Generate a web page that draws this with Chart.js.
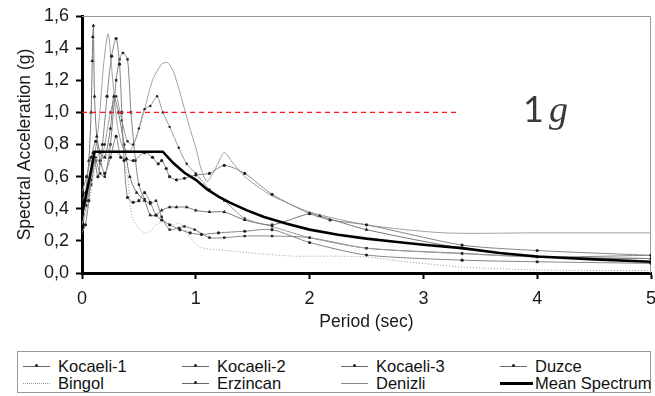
<!DOCTYPE html>
<html>
<head>
<meta charset="utf-8">
<title>Response spectra</title>
<script src="https://cdn.jsdelivr.net/npm/chart.js"></script>
<style>
  body { margin: 0; background: #fff; }
  #wrap { position: relative; width: 655px; height: 396px; font-family: "Liberation Sans", Arial, sans-serif; }
  #plot { position: absolute; left: 0; top: 0; width: 655px; height: 340px; }
  #oneg { position: absolute; left: 523px; top: 86px; color: #3a3a3a; white-space: nowrap; }
  #oneg .n { font-family: Lato, sans-serif; font-size: 36px; }
  #oneg .g { font-family: "Liberation Serif", serif; font-style: italic; font-size: 38px; margin-left: 5px; }
  #legend { position: absolute; left: 17px; top: 351px; width: 634px; height: 42px; border: 1px solid #999; box-sizing: border-box; }
  .item { position: absolute; height: 18px; font-size: 16.5px; color: #111; line-height: 18px; }
  .item .ln { position: absolute; left: 0; top: 9px; width: 27px; border-top: 1px solid #666; }
  .item .dot { position: absolute; left: 12px; top: 7px; width: 3px; height: 3px; background: #222; border-radius: 50%; }
  .item span.t { position: absolute; left: 35px; top: 0; white-space: nowrap; }
</style>
</head>
<body>
<div id="wrap">
  <div id="plot"><canvas id="myChart"></canvas></div>
  <div id="oneg"><span class="n">1</span><span class="g">g</span></div>
  <div id="legend"></div>
</div>
<script>
// period (s), spectral acceleration (g) pairs
const kocaeli1 = [[0,0.25],[0.03,0.3],[0.06,0.45],[0.1,0.75],[0.14,0.6],[0.18,0.8],[0.22,1.1],[0.26,1.35],[0.3,1.46],[0.33,1.3],[0.35,1.0],[0.37,0.7],[0.4,0.47],[0.45,0.44],[0.5,0.45],[0.55,0.5],[0.6,0.44],[0.65,0.36],[0.7,0.33],[0.77,0.3],[0.86,0.27],[0.95,0.25],[1.05,0.24],[1.2,0.25],[1.43,0.26],[1.67,0.27],[2.0,0.19],[2.5,0.112],[3.34,0.08],[4.0,0.07],[5.0,0.06]];
const kocaeli2 = [[0,0.5],[0.04,0.6],[0.08,0.72],[0.12,0.82],[0.16,0.7],[0.2,0.62],[0.25,0.72],[0.3,0.85],[0.34,0.72],[0.39,0.71],[0.45,0.7],[0.55,0.75],[0.62,0.72],[0.67,0.68],[0.7,0.7],[0.74,0.65],[0.77,0.6],[0.83,0.58],[0.9,0.59],[1.0,0.61],[1.12,0.62],[1.25,0.67],[1.43,0.62],[1.67,0.49],[2.0,0.37],[2.18,0.33],[2.5,0.3],[3.34,0.174],[4.0,0.14],[5.0,0.11]];
const kocaeli3 = [[0,0.45],[0.03,0.5],[0.06,0.7],[0.08,1.0],[0.09,1.32],[0.095,1.47],[0.1,1.54],[0.11,1.1],[0.13,0.85],[0.16,0.75],[0.2,0.72],[0.25,0.9],[0.28,1.1],[0.32,1.0],[0.37,0.8],[0.42,0.6],[0.48,0.5],[0.55,0.45],[0.6,0.36],[0.65,0.36],[0.7,0.39],[0.77,0.41],[0.83,0.41],[0.92,0.41],[1.0,0.39],[1.12,0.38],[1.25,0.38],[1.43,0.33],[1.67,0.3],[2.0,0.37],[2.09,0.355],[2.5,0.27],[3.34,0.154],[4.0,0.1],[5.0,0.09]];
const duzce = [[0,0.3],[0.04,0.42],[0.08,0.58],[0.12,0.72],[0.16,0.68],[0.2,0.8],[0.25,1.0],[0.3,1.1],[0.35,0.95],[0.4,0.82],[0.45,0.8],[0.5,0.9],[0.55,1.02],[0.6,1.04],[0.66,1.1],[0.71,1.0],[0.77,0.91],[0.85,0.78],[0.92,0.68],[1.0,0.62],[1.12,0.52],[1.25,0.45],[1.43,0.34],[1.67,0.29],[2.0,0.22],[2.5,0.155],[3.34,0.12],[4.0,0.1],[5.0,0.09]];
const bingol = [[0,0.3],[0.05,0.4],[0.1,0.6],[0.15,0.75],[0.2,0.7],[0.25,0.8],[0.3,0.75],[0.35,0.72],[0.4,0.6],[0.44,0.35],[0.5,0.28],[0.55,0.25],[0.6,0.26],[0.65,0.3],[0.72,0.32],[0.8,0.3],[0.86,0.31],[0.95,0.22],[1.04,0.16],[1.27,0.14],[1.56,0.12],[1.85,0.105],[2.18,0.105],[2.5,0.1],[2.76,0.077],[3.34,0.037],[4.0,0.019],[5.0,0.015]];
const erzincan = [[0,0.35],[0.04,0.45],[0.08,0.55],[0.12,0.7],[0.16,0.62],[0.2,0.6],[0.25,0.8],[0.3,1.2],[0.33,1.33],[0.36,1.37],[0.4,1.33],[0.43,1.0],[0.47,0.7],[0.5,0.55],[0.55,0.46],[0.6,0.43],[0.65,0.45],[0.7,0.35],[0.77,0.27],[0.85,0.28],[0.9,0.29],[0.99,0.27],[1.12,0.22],[1.25,0.22],[1.43,0.23],[1.67,0.23],[2.0,0.22],[2.5,0.154],[3.34,0.123],[4.0,0.1],[5.0,0.11]];
const denizli = [[0,0.38],[0.05,0.5],[0.1,0.68],[0.15,0.95],[0.19,1.3],[0.23,1.49],[0.27,1.2],[0.31,0.92],[0.36,0.78],[0.42,0.76],[0.48,0.85],[0.55,1.02],[0.62,1.2],[0.7,1.3],[0.75,1.31],[0.8,1.26],[0.87,1.1],[0.94,0.92],[1.0,0.78],[1.05,0.64],[1.1,0.57],[1.18,0.66],[1.25,0.75],[1.32,0.69],[1.43,0.6],[1.56,0.53],[1.67,0.48],[2.0,0.38],[2.5,0.3],[3.18,0.25],[4.0,0.25],[5.0,0.25]];
const meanSpectrum = [[0,0.36],[0.04,0.5],[0.08,0.64],[0.11,0.755],[0.71,0.755],[0.8,0.686],[0.9,0.624],[1.0,0.58],[1.1,0.52],[1.2,0.476],[1.3,0.438],[1.45,0.39],[1.6,0.349],[1.8,0.306],[2.0,0.27],[2.25,0.238],[2.5,0.214],[2.75,0.195],[3.0,0.176],[3.34,0.155],[3.67,0.125],[4.0,0.103],[4.5,0.085],[5.0,0.07]];
const oneG = [[0,1],[3.3,1]];

const xTicks = [0, 1, 2, 3, 4, 5];
const yTicks = [0, 0.2, 0.4, 0.6, 0.8, 1.0, 1.2, 1.4, 1.6];

const pts = arr => arr.map(p => ({x: p[0], y: p[1]}));

function rec(label, arr, opts) {
    return Object.assign({
        label: label,
        data: pts(arr),
        borderColor: '#8a8a8a',
        borderWidth: 1,
        pointRadius: 1.6,
        pointBackgroundColor: '#222',
        pointBorderColor: '#222',
        pointBorderWidth: 0,
        tension: 0.25,
        fill: false
    }, opts || {});
}

const datasets = [
    {label: 'Mean Spectrum', data: pts(meanSpectrum), borderColor: '#000', borderWidth: 2.6, pointRadius: 0, tension: 0, fill: false},
    {label: '1g', data: pts(oneG), borderColor: '#ff1a1a', borderWidth: 1.3, borderDash: [5, 4], pointRadius: 0, fill: false},
    rec('Kocaeli-1', kocaeli1, {borderColor: '#858585'}),
    rec('Kocaeli-2', kocaeli2, {borderColor: '#888'}),
    rec('Kocaeli-3', kocaeli3, {pointStyle: 'triangle', pointRadius: 2.2, borderColor: '#777'}),
    rec('Duzce', duzce, {pointRadius: 1.2, borderColor: '#9a9a9a'}),
    rec('Bingol', bingol, {pointRadius: 0, borderDash: [1, 2], borderColor: '#999'}),
    rec('Erzincan', erzincan, {pointStyle: 'rect', pointRadius: 1.7, borderColor: '#858585'}),
    rec('Denizli', denizli, {pointRadius: 0, borderColor: '#a0a0a0'})
];

// thin grey frame on the top and right of the plot
const frame = {
    id: 'frame',
    beforeDatasetsDraw(c) {
        const {ctx, chartArea: a} = c;
        ctx.save();
        ctx.strokeStyle = '#9a9a9a';
        ctx.lineWidth = 1;
        ctx.beginPath();
        ctx.moveTo(a.left, a.top + 0.5);
        ctx.lineTo(a.right - 0.5, a.top + 0.5);
        ctx.lineTo(a.right - 0.5, a.bottom);
        ctx.stroke();
        ctx.restore();
    }
};

Chart.defaults.font.family = '"Liberation Sans", Arial, sans-serif';
Chart.defaults.color = '#1a1a1a';

const ctx = document.getElementById('myChart').getContext('2d');
const chart = new Chart(ctx, {
    type: 'line',
    data: {datasets: datasets},
    options: {
        animation: false,
        responsive: true,
        maintainAspectRatio: false,
        layout: {padding: {top: 16, right: 3, left: 0, bottom: 0}},
        plugins: {legend: {display: false}, tooltip: {enabled: false}},
        scales: {
            x: {
                type: 'linear', min: 0, max: 5,
                afterBuildTicks: ax => { ax.ticks = xTicks.map(v => ({value: v})); },
                afterFit: ax => { ax.height = 67; ax.paddingLeft = 0; ax.paddingRight = 0; },
                ticks: {font: {size: 18}, padding: 9, maxRotation: 0, callback: v => String(v)},
                grid: {drawOnChartArea: false, color: '#000', tickLength: 6, tickWidth: 2},
                border: {color: '#000', width: 3},
                title: {display: true, text: 'Period (sec)', font: {size: 17.5}, padding: {top: 4, bottom: 7}}
            },
            y: {
                min: 0, max: 1.6,
                afterBuildTicks: ax => { ax.ticks = yTicks.map(v => ({value: v})); },
                afterFit: ax => { ax.width = 82; ax.paddingTop = 0; ax.paddingBottom = 0; },
                ticks: {font: {size: 18}, padding: 7, callback: v => v.toFixed(1).replace('.', ',')},
                grid: {drawOnChartArea: false, color: '#000', tickLength: 6, tickWidth: 2},
                border: {color: '#000', width: 3},
                title: {display: true, text: 'Spectral Acceleration (g)', font: {size: 17.5}, padding: {top: 15, bottom: 4}}
            }
        }
    },
    plugins: [frame]
});

// legend: 4 columns x 2 rows
const legendRows = [
    ['Kocaeli-1', 'Kocaeli-2', 'Kocaeli-3', 'Duzce'],
    ['Bingol', 'Erzincan', 'Denizli', 'Mean Spectrum']
];
const colX = [5, 164, 323, 482];
const rowY = [5, 22];
const leg = document.getElementById('legend');
legendRows.forEach((row, r) => row.forEach((name, c) => {
    const it = document.createElement('div');
    it.className = 'item';
    it.style.left = colX[c] + 'px';
    it.style.top = rowY[r] + 'px';
    let ln = '<div class="ln"></div><div class="dot"></div>';
    if (name === 'Bingol') ln = '<div class="ln" style="border-top:1px dotted #999"></div>';
    if (name === 'Denizli') ln = '<div class="ln" style="border-top-color:#888"></div>';
    if (name === 'Mean Spectrum') ln = '<div class="ln" style="border-top:3px solid #000;top:8px;width:33px"></div>';
    it.innerHTML = ln + '<span class="t">' + name + '</span>';
    leg.appendChild(it);
}));
</script>
</body>
</html>
